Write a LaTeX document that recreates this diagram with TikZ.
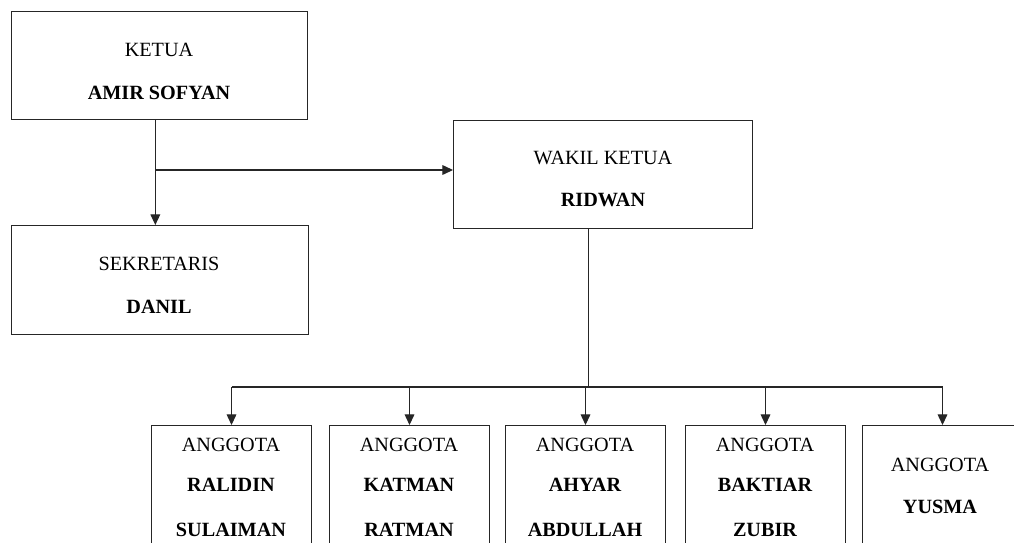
\documentclass[tikz,border=0pt]{standalone}
\usepackage{fontspec}
\setmainfont{Liberation Serif}
\usetikzlibrary{arrows.meta}
\usetikzlibrary{calc}
\tikzstyle{box}=[draw=black!85,line width=0.6pt,rectangle,inner sep=0pt,anchor=north west]
\tikzstyle{role}=[font=\fontsize{11.5}{14}\selectfont,inner sep=0pt]
\tikzstyle{person}=[font=\fontsize{11.5}{14}\selectfont\bfseries,inner sep=0pt]
\tikzstyle{line} = [draw=black!85,line width=0.6pt]
\tikzstyle{arrowline} = [line,-{Triangle[width=5.5pt,length=6pt]}]

\begin{document}
\begin{tikzpicture}[x=0.02cm,y=-0.02cm]
    \useasboundingbox (0,0) rectangle (1014,542);
    \clip (0,0) rectangle (1014,542);

    % top part
    \node[box,minimum width=5.92cm,minimum height=2.16cm] (ketua) at (11,11) {};
    \node[box,minimum width=5.94cm,minimum height=2.18cm] (sekretaris) at (11,225) {};
    \node[box,minimum width=5.98cm,minimum height=2.16cm] (wakil) at (453,120) {};

    \node[role] (ketuaT) at (159,50) {KETUA};
    \node[person] (ketuaN) at (159,93) {AMIR SOFYAN};
    \node[role] (sekretarisT) at (159,264) {SEKRETARIS};
    \node[person] (sekretarisN) at (159,307) {DANIL};
    \node[role] (wakilT) at (603,158) {WAKIL KETUA};
    \node[person] (wakilN) at (603,200) {RIDWAN};

    \coordinate (k) at ($(ketua.south west)!0.486!(ketua.south east)$);
    \path[arrowline] (k) -- (k |- sekretaris.north);
    \path[arrowline] (k |- 0,170) -- (wakil.west |- 0,170);

    % anggota
    \foreach \name/\x in {a1/151, a2/329, a3/505, a4/685, a5/862}
        \node[box,minimum width=3.2cm,minimum height=2.7cm] (\name) at (\x,425) {};

    \coordinate (w) at ($(wakil.south west)!0.452!(wakil.south east)$);
    \coordinate (bus) at (588,387);
    \path[line] (w) -- (w |- bus);
    \path[line] (a1.north |- bus) -- (a5.north |- bus);
    \foreach \name in {a1, a2, a3, a4, a5}
        \path[arrowline] (\name.north |- bus) -- (\name.north);

    \foreach \name/\x/\first/\second in {a1/231/RALIDIN/SULAIMAN, a2/409/KATMAN/RATMAN, a3/585/AHYAR/ABDULLAH, a4/765/BAKTIAR/ZUBIR}
    {
        \node[role] (\name T) at (\x,445) {ANGGOTA};
        \node[person] (\name N) at (\x,485) {\first};
        \node[person] (\name M) at (\x,530) {\second};
    }
    \node[role] (a5T) at (940,465) {ANGGOTA};
    \node[person] (a5N) at (940,507) {YUSMA};

\end{tikzpicture}
\end{document}
